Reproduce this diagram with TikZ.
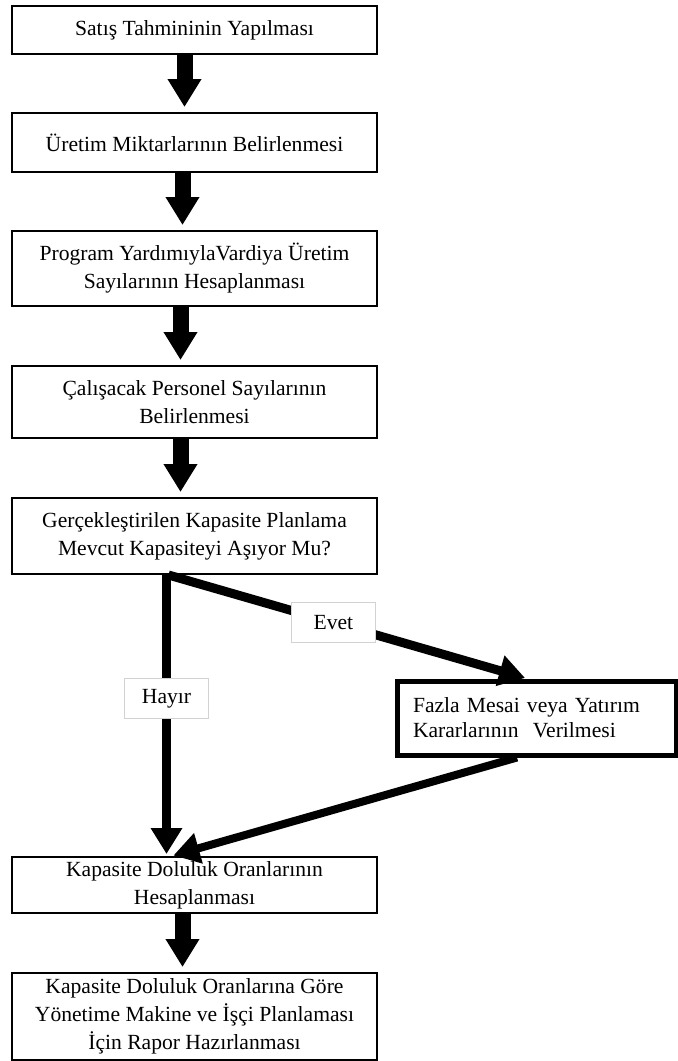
\documentclass[tikz,border=0pt]{standalone}
\usepackage{fontspec}
\setmainfont{Liberation Serif}
\usetikzlibrary{arrows.meta}

\begin{document}
\begin{tikzpicture}[x=0.5pt,y=-0.5pt]
\useasboundingbox (0,0) rectangle (678,1061);

\begin{scope}[every node/.style={rectangle,draw,line width=1pt,inner sep=0pt,
              minimum width=182.5pt,align=center,
              font=\fontsize{10.8}{14}\selectfont}]
    \node[minimum height=24pt] (sales) at (194.5,30) {Satış Tahmininin Yapılması};
    \node[minimum height=29.5pt] (output) at (194.5,142.5) {Üretim Miktarlarının Belirlenmesi};
    \node[minimum height=37.5pt] (shift) at (194.5,268.5) {Program YardımıylaVardiya Üretim\\Sayılarının Hesaplanması};
    \node[minimum height=36pt] (staff) at (194.5,402) {Çalışacak Personel Sayılarının\\Belirlenmesi};
    \node[minimum height=38pt] (check) at (194.5,536) {Gerçekleştirilen Kapasite Planlama\\Mevcut Kapasiteyi Aşıyor Mu?};
    \node[minimum height=28pt] (ratio) at (194.5,885) {Kapasite Doluluk Oranlarının\\Hesaplanması};
    \node[minimum height=43.5pt] (report) at (194.5,1016.5) {Kapasite Doluluk Oranlarına Göre\\Yönetime Makine ve İşçi Planlaması\\İçin Rapor Hazırlanması};

    \node[line width=2.5pt,minimum width=139.5pt,minimum height=37pt,
          text width=123.5pt,inner xsep=8pt,align=left,
          font=\fontsize{10.8}{12.5}\selectfont] (overtime) at (536.5,718)
          {Fazla Mesai veya Yatırım\\Kararlarının\ \ Verilmesi};
\end{scope}

\begin{scope}[every edge/.style={draw=black,line width=8pt,shorten >=2.5pt,
              -{Triangle[width=16pt,length=14pt]}}]
    \path ([xshift=-5pt]sales.south) edge ([xshift=-5pt]output.north);
    \path ([xshift=-6pt]output.south) edge ([xshift=-6pt]shift.north);
    \path ([xshift=-7pt]shift.south) edge ([xshift=-7pt]staff.north);
    \path ([xshift=-7pt]staff.south) edge ([xshift=-7pt]check.north);
    \path ([xshift=-6pt]ratio.south) edge ([xshift=-6pt]report.north);
\end{scope}

\begin{scope}[every node/.style={fill=white,draw=gray!35,line width=0.5pt,
              minimum width=42pt,minimum height=20pt,inner sep=0pt,
              font=\fontsize{10.8}{14}\selectfont},
              every edge/.style={draw=black,line width=4.5pt,shorten >=1pt,
              -{Triangle[width=15pt,length=13pt]}}]
    \path ([xshift=-14pt]check.south) edge node[pos=0.44] {Hayır} ([xshift=-14pt]ratio.north);
    \path ([xshift=-13pt]check.south) edge node[pos=0.46] {Evet} ([xshift=-4.75pt]overtime.north);
    \path ([xshift=-9.75pt]overtime.south) edge[line width=4pt] ([xshift=-11.5pt]ratio.north);
\end{scope}
\end{tikzpicture}
\end{document}
